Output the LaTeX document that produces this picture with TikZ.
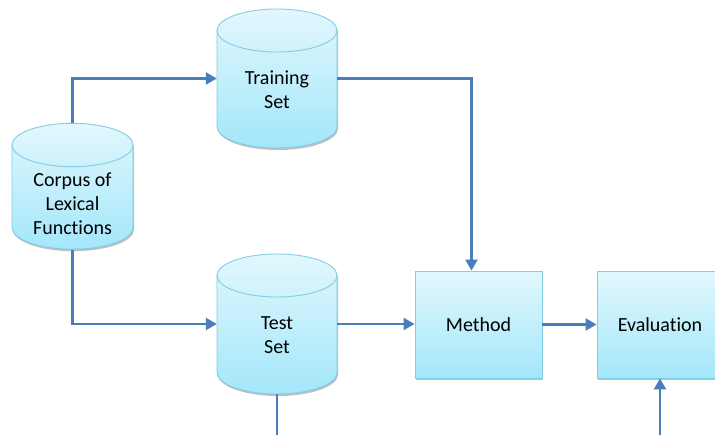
\documentclass[tikz,border=0pt]{standalone}
\usepackage{fontspec}
\setmainfont[Ligatures={NoCommon}]{Carlito}
\usetikzlibrary{arrows.meta,shadows,calc}
\definecolor{fillTop}{HTML}{E2F7FD}
\definecolor{fillBot}{HTML}{A3E7FA}
\definecolor{edgeC}{HTML}{80CDE4}
\definecolor{arrC}{HTML}{4A7EBB}
\tikzset{
  shapefill/.style={draw=edgeC, line width=0.9pt, top color=fillTop, bottom color=fillBot,
    drop shadow={shadow xshift=1pt, shadow yshift=-2pt, opacity=0.25, fill=black}},
  anchorbox/.style={draw=none, inner sep=0pt, minimum width=#1},
  lbl/.style={font=\fontsize{20pt}{24pt}\selectfont, align=center, inner sep=0pt, text=black},
  conn/.style={draw=arrC, line width=2.4pt, -{Triangle[length=11pt,width=12pt]}},
  connplain/.style={draw=arrC, line width=2.4pt}
}
\begin{document}
\begin{tikzpicture}[x=1pt,y=1pt]
\useasboundingbox (0,0) rectangle (715,-434);
\clip (0,0) rectangle (715,-434);
% cylinders
% Corpus
\path[shapefill] (12,-145) -- (12,-227.5) arc[start angle=180,end angle=360,x radius=60.5,y radius=21.7]
  -- (133,-145) arc[start angle=0,end angle=180,x radius=60.5,y radius=21.7] -- cycle;
\draw[edgeC, line width=0.9pt] (12,-145) arc[start angle=180,end angle=360,x radius=60.5,y radius=21.7];
% Training
\path[shapefill] (217,-30.5) -- (217,-126.5) arc[start angle=180,end angle=360,x radius=60,y radius=21.5]
  -- (337,-30.5) arc[start angle=0,end angle=180,x radius=60,y radius=21.5] -- cycle;
\draw[edgeC, line width=0.9pt] (217,-30.5) arc[start angle=180,end angle=360,x radius=60,y radius=21.5];
% Test
\path[shapefill] (217,-275.5) -- (217,-372.5) arc[start angle=180,end angle=360,x radius=60,y radius=21.5]
  -- (337,-275.5) arc[start angle=0,end angle=180,x radius=60,y radius=21.5] -- cycle;
\draw[edgeC, line width=0.9pt] (217,-275.5) arc[start angle=180,end angle=360,x radius=60,y radius=21.5];
% anchor nodes for the cylinders
\node[anchorbox=121pt, minimum height=127pt] (corpus) at (72.5,-186.5) {};
\node[anchorbox=120pt, minimum height=139pt] (train) at (277,-78.5) {};
\node[anchorbox=120pt, minimum height=140pt] (test) at (277,-324) {};
% boxes
\node[shapefill, minimum width=127pt, minimum height=107pt, inner sep=0pt] (method) at (478.5,-324.5) {};
\node[shapefill, minimum width=126pt, minimum height=107pt, inner sep=0pt] (eval) at (660,-324.5) {};
% labels
\node[lbl] (corpustxt) at (72.5,-204) {Corpus of\\Lexical\\Functions};
\node[lbl] (traintxt) at (277,-90) {Training\\Set};
\node[lbl] (testtxt) at (277,-335) {Test\\Set};
\node[lbl] (methodtxt) at (478.5,-325) {Method};
\node[lbl] (evaltxt) at (660,-325) {Evaluation};
% connectors
\coordinate (testout) at (277,-440);
\coordinate (evalin) at (660,-440);
\draw[conn] (corpus.north) |- (train.west);
\draw[conn] (corpus.south) |- (test.west);
\draw[conn] (train.east) -| ([xshift=-7pt]method.north);
\draw[conn] (test.east) -- (method.west |- test.east);
\draw[conn] (method.east) -- (eval.west);
\draw[connplain] (test.south) -- (testout);
\draw[conn] (evalin) -- (eval.south);
\end{tikzpicture}
\end{document}
